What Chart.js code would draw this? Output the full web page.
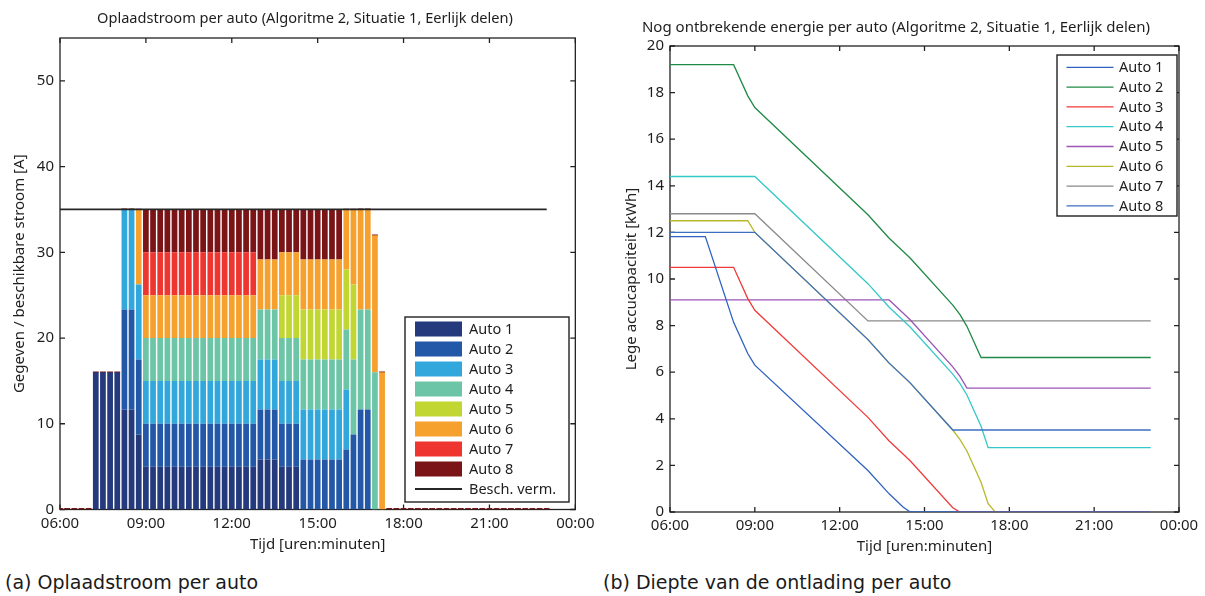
<!DOCTYPE html>
<html>
<head>
<meta charset="utf-8">
<title>Oplaadstroom en ontbrekende energie per auto</title>
<script src="https://cdn.jsdelivr.net/npm/chart.js@4.4.1/dist/chart.umd.min.js"></script>
<style>
  html, body { margin: 0; padding: 0; background: #ffffff; }
  body { width: 1205px; height: 596px; position: relative; overflow: hidden; }
  .paneel { position: absolute; top: 0; height: 560px; }
  #links { left: 0; width: 600px; }
  #rechts { left: 600px; width: 605px; }
  .onderschrift {
    position: absolute; top: 571px; line-height: 22px;
    font-family: "DejaVu Sans", sans-serif; font-size: 19px; color: #1a1a1a; white-space: nowrap;
  }
</style>
</head>
<body>
<div class="paneel" id="links"><canvas id="stroom"></canvas></div>
<div class="paneel" id="rechts"><canvas id="energie"></canvas></div>
<div class="onderschrift" style="left:5px">(a) Oplaadstroom per auto</div>
<div class="onderschrift" style="left:603px">(b) Diepte van de ontlading per auto</div>

<script>
// ---- Gegevens ---------------------------------------------------------------

const autoNamen = ['Auto 1', 'Auto 2', 'Auto 3', 'Auto 4', 'Auto 5', 'Auto 6', 'Auto 7', 'Auto 8'];

// tijdas (uren), ticks elke drie uur
const tijdTicks  = [6, 9, 12, 15, 18, 21, 24];
const tijdLabels = ['06:00', '09:00', '12:00', '15:00', '18:00', '21:00', '00:00'];

// kwartieren van 06:00 t/m 23:00 (uren)
const kwartier = [
  6, 6.25, 6.5, 6.75, 7, 7.25, 7.5, 7.75, 8, 8.25, 8.5, 8.75,
  9, 9.25, 9.5, 9.75, 10, 10.25, 10.5, 10.75, 11, 11.25, 11.5, 11.75,
  12, 12.25, 12.5, 12.75, 13, 13.25, 13.5, 13.75, 14, 14.25, 14.5, 14.75,
  15, 15.25, 15.5, 15.75, 16, 16.25, 16.5, 16.75, 17, 17.25, 17.5, 17.75,
  18, 18.25, 18.5, 18.75, 19, 19.25, 19.5, 19.75, 20, 20.25, 20.5, 20.75,
  21, 21.25, 21.5, 21.75, 22, 22.25, 22.5, 22.75, 23
];

// oplaadstroom per kwartier [A]
const stroomAuto1 = [
  0, 0, 0, 0, 0, 16, 16, 16, 16, 11.67, 11.67, 8.75,
  5, 5, 5, 5, 5, 5, 5, 5, 5, 5, 5, 5,
  5, 5, 5, 5, 5.83, 5.83, 5.83, 5, 5, 5, 0, 0,
  0, 0, 0, 0, 0, 0, 0, 0, 0, 0, 0, 0,
  0, 0, 0, 0, 0, 0, 0, 0, 0, 0, 0, 0,
  0, 0, 0, 0, 0, 0, 0, 0, 0
];
const stroomAuto2 = [
  0, 0, 0, 0, 0, 0, 0, 0, 0, 11.67, 11.67, 8.75,
  5, 5, 5, 5, 5, 5, 5, 5, 5, 5, 5, 5,
  5, 5, 5, 5, 5.83, 5.83, 5.83, 5, 5, 5, 5.83, 5.83,
  5.83, 5.83, 5.83, 5.83, 7, 8.75, 11.67, 11.67, 0, 0, 0, 0,
  0, 0, 0, 0, 0, 0, 0, 0, 0, 0, 0, 0,
  0, 0, 0, 0, 0, 0, 0, 0, 0
];
const stroomAuto3 = [
  0, 0, 0, 0, 0, 0, 0, 0, 0, 11.67, 11.67, 8.75,
  5, 5, 5, 5, 5, 5, 5, 5, 5, 5, 5, 5,
  5, 5, 5, 5, 5.83, 5.83, 5.83, 5, 5, 5, 5.83, 5.83,
  5.83, 5.83, 5.83, 5.83, 7, 0, 0, 0, 0, 0, 0, 0,
  0, 0, 0, 0, 0, 0, 0, 0, 0, 0, 0, 0,
  0, 0, 0, 0, 0, 0, 0, 0, 0
];
const stroomAuto4 = [
  0, 0, 0, 0, 0, 0, 0, 0, 0, 0, 0, 0,
  5, 5, 5, 5, 5, 5, 5, 5, 5, 5, 5, 5,
  5, 5, 5, 5, 5.83, 5.83, 5.83, 5, 5, 5, 5.83, 5.83,
  5.83, 5.83, 5.83, 5.83, 7, 8.75, 11.67, 11.67, 16, 0, 0, 0,
  0, 0, 0, 0, 0, 0, 0, 0, 0, 0, 0, 0,
  0, 0, 0, 0, 0, 0, 0, 0, 0
];
const stroomAuto5 = [
  0, 0, 0, 0, 0, 0, 0, 0, 0, 0, 0, 0,
  0, 0, 0, 0, 0, 0, 0, 0, 0, 0, 0, 0,
  0, 0, 0, 0, 0, 0, 0, 5, 5, 5, 5.83, 5.83,
  5.83, 5.83, 5.83, 5.83, 7, 8.75, 0, 0, 0, 0, 0, 0,
  0, 0, 0, 0, 0, 0, 0, 0, 0, 0, 0, 0,
  0, 0, 0, 0, 0, 0, 0, 0, 0
];
const stroomAuto6 = [
  0, 0, 0, 0, 0, 0, 0, 0, 0, 0, 0, 8.75,
  5, 5, 5, 5, 5, 5, 5, 5, 5, 5, 5, 5,
  5, 5, 5, 5, 5.83, 5.83, 5.83, 5, 5, 5, 5.83, 5.83,
  5.83, 5.83, 5.83, 5.83, 7, 8.75, 11.67, 11.67, 16, 16, 0, 0,
  0, 0, 0, 0, 0, 0, 0, 0, 0, 0, 0, 0,
  0, 0, 0, 0, 0, 0, 0, 0, 0
];
const stroomAuto7 = [
  0, 0, 0, 0, 0, 0, 0, 0, 0, 0, 0, 0,
  5, 5, 5, 5, 5, 5, 5, 5, 5, 5, 5, 5,
  5, 5, 5, 5, 0, 0, 0, 0, 0, 0, 0, 0,
  0, 0, 0, 0, 0, 0, 0, 0, 0, 0, 0, 0,
  0, 0, 0, 0, 0, 0, 0, 0, 0, 0, 0, 0,
  0, 0, 0, 0, 0, 0, 0, 0, 0
];
const stroomAuto8 = [
  0, 0, 0, 0, 0, 0, 0, 0, 0, 0, 0, 0,
  5, 5, 5, 5, 5, 5, 5, 5, 5, 5, 5, 5,
  5, 5, 5, 5, 5.83, 5.83, 5.83, 5, 5, 5, 5.83, 5.83,
  5.83, 5.83, 5.83, 5.83, 0, 0, 0, 0, 0, 0, 0, 0,
  0, 0, 0, 0, 0, 0, 0, 0, 0, 0, 0, 0,
  0, 0, 0, 0, 0, 0, 0, 0, 0
];

// beschikbare stroom [A]
const beschikbaarTijd   = [6, 23];
const beschikbaarStroom = [35, 35];

// ontbrekende energie [kWh] op de knikpunten van de laadcurves
const knikTijd = [6, 7.25, 8.25, 8.75, 9, 13, 13.75, 14.25, 14.5, 16, 16.25, 16.5, 17, 17.25, 17.5, 23];
const energieAuto1 = [11.82, 11.82, 8.14, 6.8, 6.3, 1.78, 0.78, 0.2, 0, 0, 0, 0, 0, 0, 0, 0];
const energieAuto2 = [19.2, 19.2, 19.2, 17.86, 17.36, 12.76, 11.75, 11.18, 10.89, 8.88, 8.48, 7.97, 6.63, 6.63, 6.63, 6.63];
const energieAuto3 = [10.5, 10.5, 10.5, 9.16, 8.66, 4.06, 3.05, 2.48, 2.19, 0.18, 0, 0, 0, 0, 0, 0];
const energieAuto4 = [14.4, 14.4, 14.4, 14.4, 14.4, 9.8, 8.79, 8.22, 7.93, 5.92, 5.52, 5.02, 3.68, 2.76, 2.76, 2.76];
const energieAuto5 = [9.1, 9.1, 9.1, 9.1, 9.1, 9.1, 9.1, 8.53, 8.24, 6.23, 5.83, 5.32, 5.32, 5.32, 5.32, 5.32];
const energieAuto6 = [12.5, 12.5, 12.5, 12.5, 12.0, 7.4, 6.39, 5.82, 5.53, 3.52, 3.12, 2.62, 1.28, 0.36, 0, 0];
const energieAuto7 = [12.8, 12.8, 12.8, 12.8, 12.8, 8.2, 8.2, 8.2, 8.2, 8.2, 8.2, 8.2, 8.2, 8.2, 8.2, 8.2];
const energieAuto8 = [12.0, 12.0, 12.0, 12.0, 12.0, 7.4, 6.39, 5.82, 5.53, 3.52, 3.52, 3.52, 3.52, 3.52, 3.52, 3.52];

const stroomReeksen  = [stroomAuto1, stroomAuto2, stroomAuto3, stroomAuto4, stroomAuto5, stroomAuto6, stroomAuto7, stroomAuto8];
const energieReeksen = [energieAuto1, energieAuto2, energieAuto3, energieAuto4, energieAuto5, energieAuto6, energieAuto7, energieAuto8];

// ---- Stijl ------------------------------------------------------------------

const staafKleuren = ['#253a7c', '#2258a7', '#31a7dc', '#6cc5a7', '#c1d631', '#f6a02e', '#ee3530', '#7a1416'];
const lijnKleuren  = ['#2f62c0', '#1f8a45', '#f03a3a', '#35c8c8', '#9a55b5', '#b8b82a', '#8a8a8a', '#3c6fc2'];
const asKleur = '#222222';
const tekstKleur = '#1e1e1e';

Chart.defaults.font.family = '"Noto Sans", sans-serif';
Chart.defaults.color = tekstKleur;
Chart.defaults.animation = false;

const tijdLabel = v => {
  const i = tijdTicks.indexOf(v);
  return i >= 0 ? tijdLabels[i] : '';
};

// kader rond het plotvlak met naar binnen gerichte ticks op alle vier zijden
const kaderPlugin = {
  id: 'kader',
  beforeDatasetsDraw(chart, args, opts) {
    const { ctx, chartArea: a, scales } = chart;
    const L = opts.lengte;
    ctx.save();
    ctx.strokeStyle = opts.kleur;
    ctx.lineWidth = opts.dikte;
    ctx.beginPath();
    scales.x.ticks.forEach(t => {
      const p = scales.x.getPixelForValue(t.value);
      ctx.moveTo(p, a.bottom); ctx.lineTo(p, a.bottom - L);
      ctx.moveTo(p, a.top);    ctx.lineTo(p, a.top + L);
    });
    scales.y.ticks.forEach(t => {
      const p = scales.y.getPixelForValue(t.value);
      ctx.moveTo(a.left, p);  ctx.lineTo(a.left + L, p);
      ctx.moveTo(a.right, p); ctx.lineTo(a.right - L, p);
    });
    ctx.stroke();
    ctx.strokeRect(a.left, a.top, a.right - a.left, a.bottom - a.top);
    ctx.restore();
  }
};

// titel boven de grafiek
const kopPlugin = {
  id: 'kop',
  afterDraw(chart, args, opts) {
    const { ctx } = chart;
    ctx.save();
    ctx.font = `${opts.grootte}px "Noto Sans", sans-serif`;
    ctx.fillStyle = tekstKleur;
    ctx.textAlign = 'center';
    ctx.textBaseline = 'middle';
    ctx.fillText(opts.tekst, opts.x, opts.y);
    ctx.restore();
  }
};

// legenda in een kader, één kolom
const legendaPlugin = {
  id: 'kaderLegenda',
  afterDraw(chart, args, o) {
    const { ctx } = chart;
    ctx.save();
    ctx.fillStyle = '#ffffff';
    ctx.fillRect(o.x, o.y, o.b, o.h);
    ctx.strokeStyle = asKleur;
    ctx.lineWidth = 1.4;
    ctx.strokeRect(o.x, o.y, o.b, o.h);
    ctx.font = `${o.grootte}px "Noto Sans", sans-serif`;
    ctx.textAlign = 'left';
    ctx.textBaseline = 'middle';
    chart.data.datasets.forEach((ds, i) => {
      const yc = o.eersteRij + i * o.rij;
      if (ds.type === 'bar') {
        ctx.fillStyle = ds.backgroundColor;
        ctx.fillRect(o.symboolX, yc - o.symboolH / 2, o.symboolB, o.symboolH);
      } else {
        ctx.strokeStyle = ds.borderColor;
        ctx.lineWidth = Math.max(ds.borderWidth, 1.3);
        ctx.beginPath();
        ctx.moveTo(o.symboolX, yc);
        ctx.lineTo(o.symboolX + o.symboolB, yc);
        ctx.stroke();
      }
      ctx.fillStyle = tekstKleur;
      ctx.fillText(ds.label, o.tekstX, yc + 0.5);
    });
    ctx.restore();
  }
};

const tijdAs = (hoogte, labelPad, titelPad) => ({
  type: 'linear', min: 6, max: 24, offset: false,
  grid: { display: false, drawTicks: false, offset: false },
  border: { display: false },
  ticks: { stepSize: 3, autoSkip: false, maxRotation: 0, padding: labelPad,
           font: { size: 15 }, color: tekstKleur, callback: tijdLabel },
  title: { display: true, text: 'Tijd [uren:minuten]', font: { size: 15 }, color: tekstKleur,
           padding: { top: 0, bottom: titelPad } },
  afterFit: s => { s.height = hoogte; }
});

// ---- (a) Oplaadstroom per auto ----------------------------------------------

const staafSets = autoNamen.map((naam, k) => ({
  type: 'bar',
  label: naam,
  data: kwartier.map((t, i) => ({ x: t, y: stroomReeksen[k][i] })),
  backgroundColor: staafKleuren[k],
  borderWidth: 0,
  categoryPercentage: 1,
  barPercentage: 0.8,
  minBarLength: k === autoNamen.length - 1 ? 1.5 : 0
}));

new Chart(document.getElementById('stroom'), {
  type: 'bar',
  data: {
    datasets: [
      ...staafSets,
      {
        type: 'line',
        label: 'Besch. verm.',
        data: beschikbaarTijd.map((t, i) => ({ x: t, y: beschikbaarStroom[i] })),
        borderColor: '#262626',
        borderWidth: 1.8,
        pointRadius: 0,
        order: -1
      }
    ]
  },
  options: {
    responsive: true,
    maintainAspectRatio: false,
    events: [],
    layout: { padding: { top: 38, right: 23, bottom: 0, left: 0 } },
    scales: {
      x: { ...tijdAs(50.5, 5.5, 6.0), stacked: true },
      y: {
        stacked: true, min: 0, max: 55,
        grid: { display: false, drawTicks: false },
        border: { display: false },
        ticks: { stepSize: 10, includeBounds: false, padding: 6, font: { size: 15 }, color: tekstKleur },
        title: { display: true, text: 'Gegeven / beschikbare stroom [A]', font: { size: 15 }, color: tekstKleur,
                 padding: { top: 11, bottom: 0 } },
        afterFit: s => { s.width = 60; }
      }
    },
    plugins: {
      legend: { display: false },
      tooltip: { enabled: false },
      kader: { lengte: 5, kleur: asKleur, dikte: 1.3 },
      kop: { tekst: 'Oplaadstroom per auto (Algoritme 2, Situatie 1, Eerlijk delen)', x: 305, y: 19, grootte: 14.6 },
      kaderLegenda: { x: 405, y: 317, b: 164, h: 185, eersteRij: 329, rij: 20,
                      symboolX: 415, symboolB: 47, symboolH: 15, tekstX: 469, grootte: 14.5 }
    }
  },
  plugins: [kaderPlugin, kopPlugin, legendaPlugin]
});

// ---- (b) Nog ontbrekende energie per auto -----------------------------------

const lijnSets = autoNamen.map((naam, k) => ({
  type: 'line',
  label: naam,
  data: knikTijd.map((t, i) => ({ x: t, y: energieReeksen[k][i] })),
  borderColor: lijnKleuren[k],
  borderWidth: 1.3,
  pointRadius: 0,
  tension: 0,
  order: k === autoNamen.length - 1 ? -1 : 0
}));

new Chart(document.getElementById('energie'), {
  type: 'line',
  data: { datasets: lijnSets },
  options: {
    responsive: true,
    maintainAspectRatio: false,
    events: [],
    layout: { padding: { top: 46, right: 26, bottom: 0, left: 0 } },
    scales: {
      x: tijdAs(48, 5, 4.0),
      y: {
        min: 0, max: 20,
        grid: { display: false, drawTicks: false },
        border: { display: false },
        ticks: { stepSize: 2, padding: 6, font: { size: 15 }, color: tekstKleur },
        title: { display: true, text: 'Lege accucapaciteit [kWh]', font: { size: 15 }, color: tekstKleur,
                 padding: { top: 23, bottom: 0 } },
        afterFit: s => { s.width = 70; }
      }
    },
    plugins: {
      legend: { display: false },
      tooltip: { enabled: false },
      kader: { lengte: 5, kleur: asKleur, dikte: 1.3 },
      kop: { tekst: 'Nog ontbrekende energie per auto (Algoritme 2, Situatie 1, Eerlijk delen)', x: 296, y: 28, grootte: 15 },
      kaderLegenda: { x: 457, y: 55, b: 120, h: 161, eersteRij: 67.3, rij: 19.8,
                      symboolX: 466.5, symboolB: 47, symboolH: 0, tekstX: 519, grootte: 14.5 }
    }
  },
  plugins: [kaderPlugin, kopPlugin, legendaPlugin]
});
</script>
</body>
</html>
